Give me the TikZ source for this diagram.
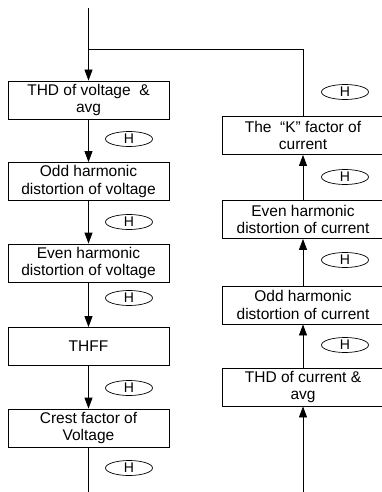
\documentclass[tikz,border=0pt]{standalone}
\usepackage{fontspec}
\setmainfont{Liberation Sans}
\usetikzlibrary{arrows.meta,shapes.geometric}

\tikzset{
  stepbox/.style={draw, line width=0.8pt, minimum width=161pt, minimum height=38pt,
    align=center, inner sep=1pt, font=\fontsize{15.5}{17.5}\selectfont},
  hkey/.style={draw, ellipse, line width=0.7pt, minimum width=47pt, minimum height=15pt,
    inner sep=0pt, font=\fontsize{14}{14}\selectfont},
  flow/.style={line width=0.8pt, -{Triangle[length=11pt,width=8pt]}},
  wire/.style={line width=0.8pt}
}

\begin{document}
\begin{tikzpicture}[x=1pt,y=-1pt]
  \useasboundingbox (0,0) rectangle (382,492);

  % --- voltage column ---
  \node[stepbox] (thdv)   at (88.5,100)   {THD of voltage \ \&\\avg};
  \node[stepbox] (oddv)   at (88.5,181.5) {Odd harmonic\\distortion of voltage};
  \node[stepbox] (evenv)  at (88.5,263)   {Even harmonic\\distortion of voltage};
  \node[stepbox] (thff)   at (88.5,346.5) {THFF};
  \node[stepbox] (crestv) at (88.5,428)   {Crest factor of\\Voltage};

  % --- current column ---
  \node[stepbox] (kfac)   at (303,135.5) {The \ “K”\ factor of\\current};
  \node[stepbox] (evenc)  at (303,219.5) {Even harmonic\\distortion of current};
  \node[stepbox] (oddc)   at (303,305)   {Odd harmonic\\distortion of current};
  \node[stepbox] (thdc)   at (303,387)   {THD of current \&\\avg};

  % H keys
  \node[hkey] (h1) at (129,139) {H};
  \node[hkey] (h2) at (129,222) {H};
  \node[hkey] (h3) at (129,298) {H};
  \node[hkey] (h4) at (129,388) {H};
  \node[hkey] (h5) at (129,468) {H};
  \node[hkey] (h6) at (345,92)  {H};
  \node[hkey] (h7) at (345,177) {H};
  \node[hkey] (h8) at (345,260) {H};
  \node[hkey] (h9) at (345,345) {H};

  \coordinate (in)   at (88.5,8);
  \coordinate (join) at (88.5,49);
  \coordinate (outv) at (88.5,492);
  \coordinate (inc)  at (303,492);

  % connectors
  \draw[flow] (in) -- (thdv);
  \draw[flow] (thdv) -- (oddv);
  \draw[flow] (oddv) -- (evenv);
  \draw[flow] (evenv) -- (thff);
  \draw[flow] (thff) -- (crestv);
  \draw[wire] (crestv) -- (outv);

  \draw[flow] (inc) -- (thdc);
  \draw[flow] (thdc) -- (oddc);
  \draw[flow] (oddc) -- (evenc);
  \draw[flow] (evenc) -- (kfac);
  \draw[wire] (kfac.north) |- (join);
\end{tikzpicture}
\end{document}
